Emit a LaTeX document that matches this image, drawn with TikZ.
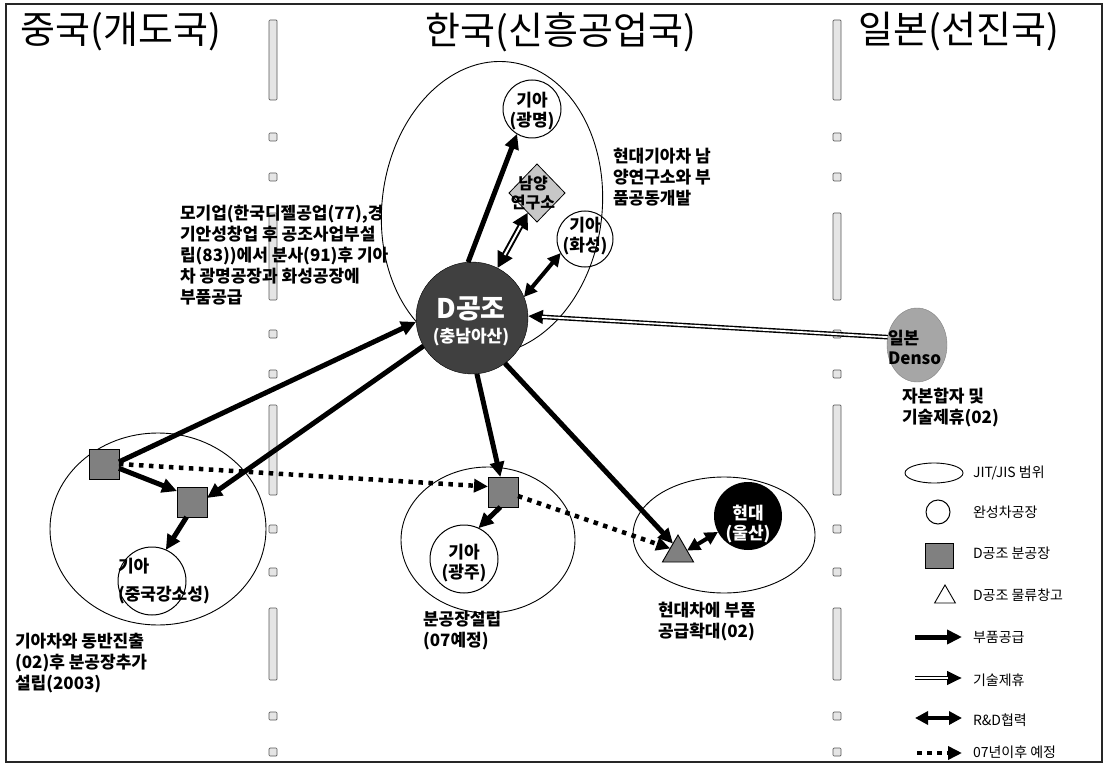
\documentclass[tikz,border=0pt]{standalone}
\usepackage{fontspec}
\setmainfont{Noto Sans CJK KR}
\usetikzlibrary{shapes.geometric,arrows.meta}
\begin{document}
\begin{tikzpicture}[x=1pt,y=-1pt,
  every node/.style={inner sep=0pt,outer sep=0pt},
  hdr/.style={font=\fontsize{38}{40}\selectfont},
  lbl/.style={font=\fontsize{17}{21}\selectfont\bfseries,align=left,anchor=west},
  ntxt/.style={font=\fontsize{17}{20}\selectfont\bfseries,align=center},
  lgtxt/.style={font=\fontsize{14}{16}\selectfont,anchor=west},
  rng/.style={draw,ellipse,line width=0.9pt},
  plant/.style={draw,circle,line width=1pt},
  branch/.style={draw,fill=black!50,line width=0.9pt,minimum width=30pt,minimum height=30pt},
  depot/.style={draw,fill=black!50,regular polygon,regular polygon sides=3,line width=0.9pt,minimum size=36pt},
  sepbar/.style={draw=black!65,fill=black!10,line width=0.7pt,rounded corners=1pt},
  supply/.style={line width=5pt,-{Triangle[length=15pt,width=14pt]}},
  both/.style={line width=4pt,{Triangle[length=13pt,width=13pt]}-{Triangle[length=13pt,width=13pt]}},
  tech/.style={line width=4.6pt,-{Triangle[length=15pt,width=13pt]},postaction={draw=white,line width=1.8pt,-,shorten >=14pt}},
  rnd/.style={line width=6pt,{Triangle[length=16pt,width=16pt]}-{Triangle[length=16pt,width=16pt]},postaction={draw=white,line width=2pt,-,shorten >=15pt,shorten <=15pt}},
  plan/.style={line width=4.5pt,dash pattern=on 4.5pt off 5.5pt,-{Triangle[length=14pt,width=13pt]}},
]
\useasboundingbox (0,0) rectangle (1108,770);
\fill[white] (0,0) rectangle (1108,770);
\draw[line width=1.2pt,black!85] (6,4) rectangle (1102,762);

% separators
\foreach \sx in {273,837}{
  \foreach \a/\b in {20/100,213/300,405/495,608/680}{\draw[sepbar] (\sx-4,\a) rectangle (\sx+4,\b);}
  \foreach \c in {137,177,334,374,529,572,716,752}{\draw[sepbar] (\sx-4,\c-4) rectangle (\sx+4,\c+4);}
}

% headers
\node[hdr] (hCN) at (121,32) {중국(개도국)};
\node[hdr] (hKR) at (561,32) {한국(신흥공업국)};
\node[hdr] (hJP) at (959,32) {일본(선진국)};

% JIT/JIS ranges
\node[rng,minimum width=220pt,minimum height=294pt,rotate=-7] (eK) at (492,208) {};
\node[rng,minimum width=216pt,minimum height=192pt] (eC) at (158,529) {};
\node[rng,minimum width=174pt,minimum height=146pt] (eG) at (488,540) {};
\node[rng,minimum width=182pt,minimum height=116pt] (eH) at (724,535) {};

% Korea
\node[plant,minimum size=58pt] (gm) at (532,109) {};
\node[ntxt] (gmT) at (532,111) {기아\\(광명)};
\node[plant,minimum size=56pt] (hs) at (585,239) {};
\node[ntxt] (hsT) at (585,236) {기아\\(화성)};
\node[diamond,draw,fill=black!22,line width=0.8pt,minimum width=56pt,minimum height=58pt] (ny) at (537,193) {};
\node[font=\fontsize{16}{19}\selectfont\bfseries,align=center] (nyT) at (533,193) {남양\\연구소};
\node[circle,fill=black!75,draw=black,minimum size=112pt] (D) at (472,318) {};
\node[text=white,align=center,font=\bfseries] (DT) at (471,321) {{\fontsize{27}{29}\selectfont D공조}\\[6pt]{\fontsize{17}{20}\selectfont (충남아산)}};

% Japan
\node[ellipse,fill=black!35,draw=black!50,minimum width=60pt,minimum height=74pt] (dn) at (917,345) {};
\node[font=\fontsize{17}{20}\selectfont\bfseries,align=left,anchor=west] (dnT) at (888,347) {일본\\Denso};

% China
\node[branch] (A) at (104,464) {};
\node[branch] (B) at (192,502) {};
\node[plant,minimum size=68pt] (cn) at (152,581) {};
\node[ntxt,align=left,anchor=west] (cnT) at (118,581) {기아\\[8pt](중국강소성)};

% Gwangju
\node[branch] (C) at (503,492) {};
\node[plant,minimum size=68pt] (gj) at (464,559) {};
\node[ntxt] (gjT) at (464,563) {기아\\(광주)};

% Ulsan
\node[depot] (tri) at (678,553) {};
\node[circle,fill=black,minimum size=68pt] (hd) at (748,516) {};
\node[ntxt,text=white] (hdT) at (748,524) {현대\\(울산)};

% annotations
\node[lbl] (t1) at (180,255) {모기업(한국디젤공업(77),경\\기안성창업 후 공조사업부설\\립(83))에서 분사(91)후 기아\\차 광명공장과 화성공장에\\부품공급};
\node[lbl] (t2) at (613,177) {현대기아차 남\\양연구소와 부\\품공동개발};
\node[lbl] (t3) at (902,408) {자본합자 및\\기술제휴(02)};
\node[lbl] (t4) at (15,663) {기아차와 동반진출\\(02)후 분공장추가\\설립(2003)};
\node[lbl] (t5) at (423,631) {분공장설립\\(07예정)};
\node[lbl] (t6) at (658,622) {현대차에 부품\\공급확대(02)};

% connectors
\draw[supply] (D.94) -- (gm.239);
\draw[rnd] (D.63) -- (ny.245);
\draw[both] (D.22) -- (hs.210);
\draw[tech] (dn.165) -- (D.2);
\draw[supply] (A.8) -- (D.184);
\draw[supply] (D.210) -- (B.15);
\draw[supply] (A.-16) -- (B.144);
\draw[supply] (B.250) -- (cn.66);
\draw[plan] (A.east) -- (C.160);
\draw[supply] (D.275) -- (C.100);
\draw[supply] (D.306) -- (tri.118);
\draw[supply] (C.260) -- (gj.65);
\draw[plan] (C.-15) -- (tri.150);
\draw[both] (tri.15) -- (hd.208);

% legend
\node[rng,minimum width=58pt,minimum height=20pt] (lgE) at (934,473) {};
\node[lgtxt] (lgEt) at (973,473) {JIT/JIS 범위};
\node[plant,minimum size=24pt] (lgC) at (938,512) {};
\node[lgtxt] (lgCt) at (973,512) {완성차공장};
\node[branch,minimum width=28pt,minimum height=25pt] (lgS) at (939,556) {};
\node[lgtxt] (lgSt) at (973,553) {D공조 분공장};
\node[draw,regular polygon,regular polygon sides=3,minimum size=24pt,line width=0.9pt] (lgT) at (945,597) {};
\node[lgtxt] (lgTt) at (973,595) {D공조 물류창고};
\coordinate (la1) at (915,637); \coordinate (lb1) at (962,637);
\coordinate (la2) at (915,678); \coordinate (lb2) at (962,678);
\coordinate (la3) at (915,718); \coordinate (lb3) at (962,718);
\coordinate (la4) at (917,753); \coordinate (lb4) at (962,753);
\draw[supply] (la1) -- (lb1);
\draw[tech] (la2) -- (lb2);
\draw[both] (la3) -- (lb3);
\draw[plan] (la4) -- (lb4);
\node[lgtxt] (lg1) at (973,637) {부품공급};
\node[lgtxt] (lg2) at (973,680) {기술제휴};
\node[lgtxt] (lg3) at (973,720) {R\&D협력};
\node[lgtxt] (lg4) at (973,752) {07년이후 예정};
\end{tikzpicture}
\end{document}
